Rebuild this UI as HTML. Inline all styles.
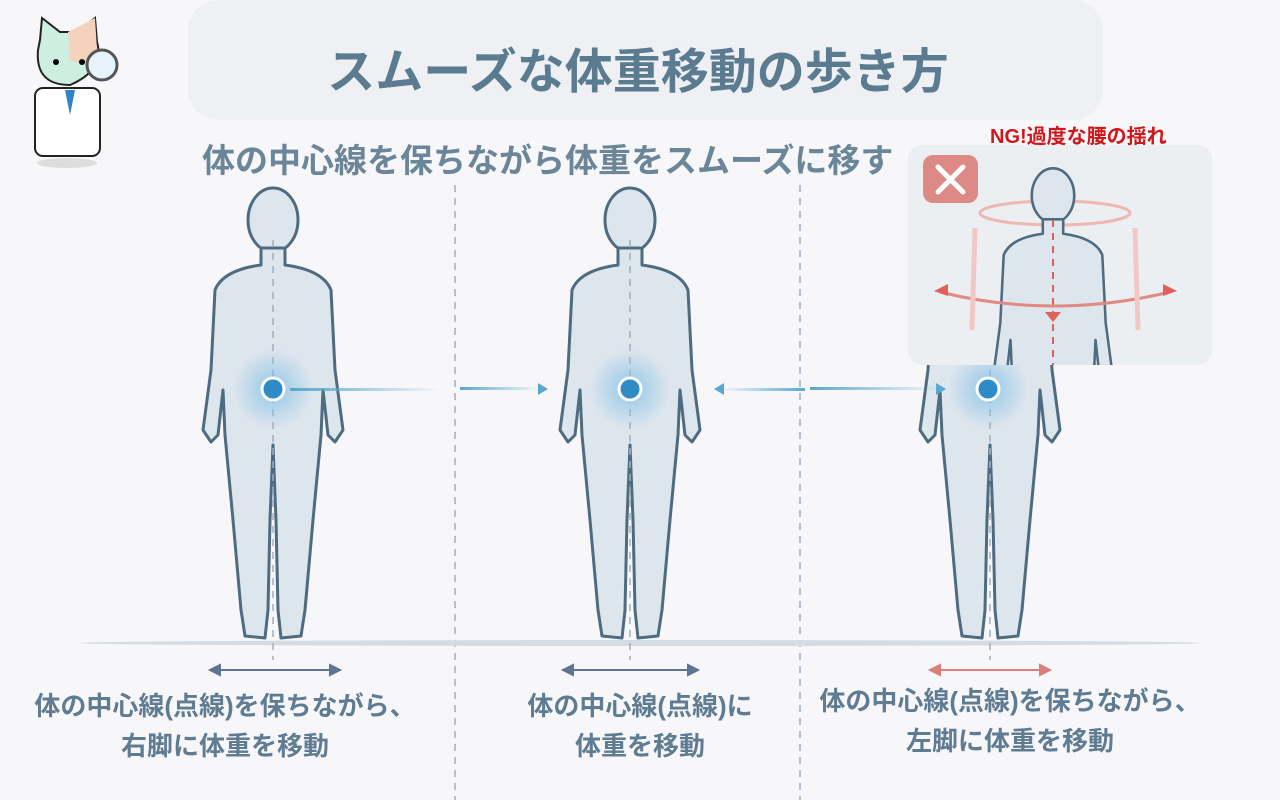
<!DOCTYPE html>
<html><head><meta charset="utf-8"><style>
body{margin:0;width:1280px;height:800px;background:#f7f7f9;overflow:hidden;position:relative;font-family:"Liberation Sans","Noto Sans CJK JP",sans-serif}
.t{position:absolute;font-weight:bold;white-space:nowrap}
</style></head><body>
<div style="position:absolute;left:188px;top:0;width:915px;height:120px;border-radius:30px;background:#eef0f3"></div>
<div class="t" style="left:0;width:1276px;text-align:center;top:32px;font-size:48px;color:#5b7b91">スムーズな体重移動の歩き方</div>
<div class="t" style="left:202px;top:134px;font-size:33px;color:#6b8698">体の中心線を保ちながら体重をスムーズに移す</div>

<svg width="1280" height="800" style="position:absolute;left:0;top:0">
<defs>
<radialGradient id="g"><stop offset="0" stop-color="#7fc0e6" stop-opacity=".8"/><stop offset="1" stop-color="#7fc0e6" stop-opacity="0"/></radialGradient>
<linearGradient id="ar" x1="0" x2="1"><stop offset="0" stop-color="#5aa7cf"/><stop offset="1" stop-color="#5aa7cf" stop-opacity="0"/></linearGradient>
<linearGradient id="al" x1="1" x2="0"><stop offset="0" stop-color="#5aa7cf"/><stop offset="1" stop-color="#5aa7cf" stop-opacity="0"/></linearGradient>
<clipPath id="pc"><rect x="908" y="145" width="304" height="220" rx="14"/></clipPath>
<g id="p">
<ellipse cx="0" cy="30" rx="25" ry="32" fill="#dde5ed" stroke="#4e6b80" stroke-width="3"/>
<path d="M-12 58 L-12 75 Q-50 80 -58 100 L-62 180 L-70 240 L-62 252 L-55 245 L-50 200 L-48 245 L-40 330 L-32 420 L-28 446 L-8 448 L-5 420 L-3 330 L0 255 L3 330 L5 420 L8 448 L28 446 L32 420 L40 330 L48 245 L50 200 L55 245 L62 252 L70 240 L62 180 L58 100 Q50 80 12 75 L12 58 Z" fill="#dde5ed" stroke="#4e6b80" stroke-width="3" stroke-linejoin="round"/>
</g>
</defs>
<g stroke="#9fb0bf" stroke-width="1.5" stroke-dasharray="7 6"><line x1="455" y1="185" x2="455" y2="800"/><line x1="800" y1="185" x2="800" y2="800"/></g>
<ellipse cx="640" cy="643" rx="560" ry="3" fill="#d4dbe3"/>
<use href="#p" x="273" y="190"/>
<use href="#p" x="630" y="190"/>
<use href="#p" x="990" y="190"/>
<g stroke="#9fb0bf" stroke-width="1.5" stroke-dasharray="7 6"><line x1="273" y1="240" x2="273" y2="660"/><line x1="630" y1="240" x2="630" y2="660"/><line x1="990" y1="370" x2="990" y2="660"/></g>
<circle cx="273" cy="389" r="40" fill="url(#g)"/><circle cx="630" cy="389" r="40" fill="url(#g)"/><circle cx="988" cy="389" r="40" fill="url(#g)"/>
<rect x="290" y="388" width="150" height="3" fill="url(#ar)"/>
<rect x="460" y="388" width="80" height="3" fill="url(#al)" transform="rotate(180 500 389)"/>
<path d="M548 389 l-10 -6 v12z" fill="#5aa7cf"/>
<rect x="720" y="388" width="85" height="3" fill="url(#al)"/>
<path d="M714 389 l10 -6 v12z" fill="#5aa7cf"/>
<rect x="810" y="388" width="130" height="3" fill="url(#al)" transform="rotate(180 875 389)"/>
<path d="M946 389 l-10 -6 v12z" fill="#5aa7cf"/>
<g fill="#2e8bc6" stroke="#fff" stroke-width="3"><circle cx="273" cy="389" r="11"/><circle cx="630" cy="389" r="11"/><circle cx="988" cy="389" r="11"/></g>
<g stroke="#5d7590" stroke-width="2" fill="#5d7590"><line x1="215" y1="670" x2="335" y2="670"/><path d="M210 670 l10 -5 v10z M340 670 l-10 -5 v10z"/><line x1="568" y1="670" x2="692" y2="670"/><path d="M563 670 l10 -5 v10z M698 670 l-10 -5 v10z"/></g>
<g stroke="#d9807a" stroke-width="2" fill="#d9807a"><line x1="935" y1="670" x2="1045" y2="670"/><path d="M930 670 l10 -5 v10z M1050 670 l-10 -5 v10z"/></g>
<rect x="908" y="145" width="304" height="220" rx="14" fill="#eceff2"/>
<g clip-path="url(#pc)">
<rect x="923" y="155" width="55" height="48" rx="10" fill="#dd8985"/>
<path d="M938 167 l25 25 M963 167 l-25 25" stroke="#fff" stroke-width="5" stroke-linecap="round"/>
<ellipse cx="1055" cy="213" rx="75" ry="12" fill="none" stroke="#eeb7b3" stroke-width="3"/>
<g transform="translate(1053 170) scale(0.85)"><use href="#p"/></g>
<line x1="1053" y1="220" x2="1053" y2="365" stroke="#e0605a" stroke-width="2" stroke-dasharray="7 6"/>
<path d="M940 292 Q1053 320 1170 292" fill="none" stroke="#e08a84" stroke-width="3"/>
<path d="M934 291 l14 -7 v12z M1177 291 l-14 -7 v12z M1045 312 l8 10 8 -10z" fill="#e0605a"/>
<g stroke="#f2c8c4" stroke-width="5" fill="none"><path d="M975 228 L972 330"/><path d="M1135 228 L1138 330"/></g>
</g>
</svg>

<div class="t" style="left:990px;top:120px;font-size:20px;color:#d0171b">NG!過度な腰の揺れ</div>
<div class="t" style="left:20px;top:686px;width:410px;text-align:center;font-size:26px;line-height:40px;color:#5f7c92">体の中心線(点線)を保ちながら、<br>右脚に体重を移動</div>
<div class="t" style="left:490px;top:686px;width:300px;text-align:center;font-size:26px;line-height:40px;color:#5f7c92">体の中心線(点線)に<br>体重を移動</div>
<div class="t" style="left:805px;top:681px;width:410px;text-align:center;font-size:26px;line-height:40px;color:#5f7c92">体の中心線(点線)を保ちながら、<br>左脚に体重を移動</div>

<svg width="110" height="165" style="position:absolute;left:10px;top:10px">
<path d="M30 30 L32 8 L50 22 L68 22 L85 8 L87 32 Q95 60 60 75 Q25 75 28 40Z" fill="#cfeee2" stroke="#222" stroke-width="2"/>
<path d="M58 22 L85 8 L87 40 Q80 60 60 50Z" fill="#f5d2bd"/>
<rect x="25" y="78" width="65" height="68" rx="8" fill="#fff" stroke="#222" stroke-width="2"/>
<path d="M55 80 l5 25 5 -25z" fill="#2f83c6"/>
<circle cx="92" cy="55" r="15" fill="#e6f3fa" stroke="#555" stroke-width="3"/>
<circle cx="46" cy="52" r="3"/><circle cx="72" cy="52" r="3"/>
<ellipse cx="57" cy="153" rx="30" ry="5" fill="#ddd"/>
</svg>
</body></html>
